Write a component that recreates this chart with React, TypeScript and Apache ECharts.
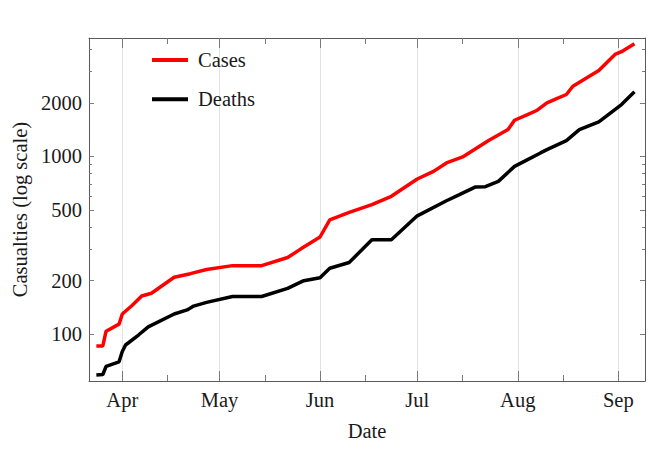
import React, { useEffect, useRef } from "react";
import * as echarts from "echarts";

const caseDates = [
  "2020-03-24", "2020-03-26", "2020-03-27", "2020-03-31", "2020-04-01", "2020-04-04",
  "2020-04-07", "2020-04-10", "2020-04-17", "2020-04-22", "2020-04-27", "2020-05-05",
  "2020-05-14", "2020-05-22", "2020-05-26", "2020-06-01", "2020-06-04", "2020-06-10",
  "2020-06-17", "2020-06-23", "2020-07-01", "2020-07-06", "2020-07-10", "2020-07-15",
  "2020-07-23", "2020-07-29", "2020-07-31", "2020-08-04", "2020-08-07", "2020-08-10",
  "2020-08-13", "2020-08-16", "2020-08-18", "2020-08-26", "2020-08-31", "2020-09-02",
  "2020-09-06",
];
const caseValues = [
  86, 86, 104, 114, 130, 145,
  164, 170, 209, 219, 231, 243,
  243, 270, 301, 352, 440, 484,
  535, 596, 746, 823, 918, 992,
  1226, 1414, 1595, 1717, 1816, 2000,
  2113, 2226, 2478, 3038, 3738, 3872,
  4295,
];

const deathDates = [
  "2020-03-24", "2020-03-26", "2020-03-27", "2020-03-31", "2020-04-01", "2020-04-02",
  "2020-04-06", "2020-04-09", "2020-04-17", "2020-04-21", "2020-04-23", "2020-04-27",
  "2020-05-05", "2020-05-14", "2020-05-22", "2020-05-27", "2020-06-01", "2020-06-04",
  "2020-06-10", "2020-06-17", "2020-06-23", "2020-07-01", "2020-07-10", "2020-07-14",
  "2020-07-19", "2020-07-22", "2020-07-26", "2020-07-31", "2020-08-03", "2020-08-08",
  "2020-08-10", "2020-08-16", "2020-08-20", "2020-08-26", "2020-09-02", "2020-09-06",
];
const deathValues = [
  59, 59.4, 66, 70, 80, 87,
  99, 110, 130, 137, 144, 151,
  163, 163, 181, 200, 208, 235,
  253, 340, 340, 463, 563, 609,
  673, 675, 723, 878, 937, 1045,
  1091, 1226, 1414, 1562, 1954, 2305,
];

const monthTicks = ["2020-04-01", "2020-05-01", "2020-06-01", "2020-07-01", "2020-08-01", "2020-09-01"];
const monthLabels = ["Apr", "May", "Jun", "Jul", "Aug", "Sep"];
const midMonthTicks = ["2020-04-15", "2020-05-15", "2020-06-15", "2020-07-15", "2020-08-15"];
const yMajorTicks = [100, 200, 500, 1000, 2000];
const yMinorTicks = [300, 400, 600, 700, 800, 900, 3000, 4000];

const X_MIN = "2020-03-21T17:30";
const X_MAX = "2020-09-09T06:00";
const Y_MIN = 54.6;
const Y_MAX = 4625;

const FONT = "Liberation Serif";
const FRAME = "#5a5a5a";
const TICK = "#7a7a7a";

const ts = (s: string) => {
  const [d, t] = s.split("T");
  const [y, m, dd] = d.split("-").map(Number);
  const [hh, mm] = (t || "00:00").split(":").map(Number);
  return Date.UTC(y, m - 1, dd, hh, mm);
};

export default function App() {
  const ref = useRef<HTMLDivElement>(null);

  useEffect(() => {
    document.body.style.margin = "0";
    if (!ref.current) return;
    const chart = echarts.init(ref.current, undefined, { renderer: "svg" });

    const monthTs = monthTicks.map(ts);
    const midTs = midMonthTicks.map(ts);
    const labelFor = (v: number) => {
      const idx = monthTs.findIndex((t) => Math.abs(t - v) < 3600 * 1000 * 12);
      return idx >= 0 ? monthLabels[idx] : "";
    };

    const baseX = {
      type: "value",
      min: ts(X_MIN),
      max: ts(X_MAX),
      gridIndex: 0,
    };
    const baseY = {
      type: "log",
      logBase: 10,
      min: Y_MIN,
      max: Y_MAX,
      gridIndex: 0,
      splitLine: { show: false },
    };

    const option: any = {
      animation: false,
      backgroundColor: "#ffffff",
      grid: { left: 89, right: 15, top: 38, bottom: 70, containLabel: false },
      legend: {
        data: ["Cases", "Deaths"],
        orient: "vertical",
        left: 147,
        top: 44.5,
        itemWidth: 36,
        itemHeight: 4,
        itemGap: 18.3,
        icon: "rect",
        textStyle: {
          fontFamily: FONT,
          fontSize: 20.5,
          color: "#1a1a1a",
          lineHeight: 20,
          padding: [0, 0, 0, 5],
        },
      },
      xAxis: [
        {
          ...baseX,
          position: "bottom",
          name: "Date",
          nameLocation: "middle",
          nameGap: 39,
          nameTextStyle: { fontFamily: FONT, fontSize: 20.5, color: "#1a1a1a" },
          axisLine: { show: true, lineStyle: { color: FRAME, width: 1 } },
          axisTick: {
            show: true,
            inside: true,
            length: 10,
            customValues: monthTs,
            lineStyle: { color: TICK, width: 1 },
          },
          axisLabel: {
            show: true,
            customValues: monthTs,
            formatter: (v: number) => labelFor(v),
            fontFamily: FONT,
            fontSize: 20.5,
            color: "#1a1a1a",
            margin: 8,
          },
          splitLine: { show: true, lineStyle: { color: "#e3e3e3", width: 1 } },
        },
        {
          ...baseX,
          position: "bottom",
          axisLine: { show: false },
          axisTick: {
            show: true,
            inside: true,
            length: 6,
            customValues: midTs,
            lineStyle: { color: TICK, width: 1 },
          },
          axisLabel: { show: false },
          splitLine: { show: false },
        },
        {
          ...baseX,
          position: "top",
          axisLine: { show: true, lineStyle: { color: FRAME, width: 1 } },
          axisTick: {
            show: true,
            inside: true,
            length: 10,
            customValues: monthTs,
            lineStyle: { color: TICK, width: 1 },
          },
          axisLabel: { show: false },
          splitLine: { show: false },
        },
        {
          ...baseX,
          position: "top",
          axisLine: { show: false },
          axisTick: {
            show: true,
            inside: true,
            length: 6,
            customValues: midTs,
            lineStyle: { color: TICK, width: 1 },
          },
          axisLabel: { show: false },
          splitLine: { show: false },
        },
      ],
      yAxis: [
        {
          ...baseY,
          position: "left",
          name: "Casualties (log scale)",
          nameLocation: "middle",
          nameGap: 57,
          nameTextStyle: { fontFamily: FONT, fontSize: 20.5, color: "#1a1a1a" },
          axisLine: { show: true, lineStyle: { color: FRAME, width: 1 } },
          axisTick: {
            show: true,
            inside: true,
            length: 5,
            customValues: yMajorTicks,
            lineStyle: { color: TICK, width: 1 },
          },
          axisLabel: {
            show: true,
            customValues: yMajorTicks,
            formatter: (v: number) => String(Math.round(v)),
            fontFamily: FONT,
            fontSize: 20.5,
            color: "#1a1a1a",
            margin: 7,
          },
        },
        {
          ...baseY,
          position: "left",
          axisLine: { show: false },
          axisTick: {
            show: true,
            inside: true,
            length: 3,
            customValues: yMinorTicks,
            lineStyle: { color: TICK, width: 1 },
          },
          axisLabel: { show: false },
        },
        {
          ...baseY,
          position: "right",
          axisLine: { show: true, lineStyle: { color: FRAME, width: 1 } },
          axisTick: {
            show: true,
            inside: true,
            length: 5,
            customValues: yMajorTicks,
            lineStyle: { color: TICK, width: 1 },
          },
          axisLabel: { show: false },
        },
        {
          ...baseY,
          position: "right",
          axisLine: { show: false },
          axisTick: {
            show: true,
            inside: true,
            length: 3,
            customValues: yMinorTicks,
            lineStyle: { color: TICK, width: 1 },
          },
          axisLabel: { show: false },
        },
      ],
      series: [
        {
          name: "Cases",
          type: "line",
          xAxisIndex: 0,
          yAxisIndex: 0,
          data: caseDates.map((d, i) => [ts(d), caseValues[i]]),
          showSymbol: false,
          symbol: "none",
          lineStyle: { color: "#ff0000", width: 3.5 },
          itemStyle: { color: "#ff0000" },
          z: 3,
        },
        {
          name: "Deaths",
          type: "line",
          xAxisIndex: 0,
          yAxisIndex: 0,
          data: deathDates.map((d, i) => [ts(d), deathValues[i]]),
          showSymbol: false,
          symbol: "none",
          lineStyle: { color: "#000000", width: 3.5 },
          itemStyle: { color: "#000000" },
          z: 3,
        },
      ],
    };

    chart.setOption(option);
    return () => chart.dispose();
  }, []);

  return <div ref={ref} style={{ width: 660, height: 451 }} />;
}
